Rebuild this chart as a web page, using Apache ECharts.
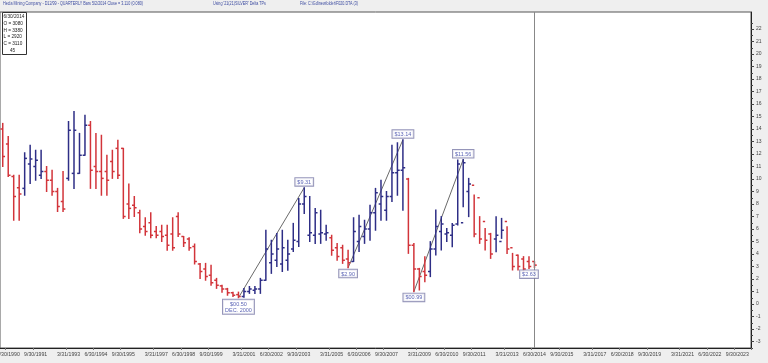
<!DOCTYPE html>
<html><head><meta charset="utf-8">
<script src="https://cdn.jsdelivr.net/npm/echarts@6/dist/echarts.min.js"></script>
<style>html,body{margin:0;padding:0;background:#efefef}#c{width:768px;height:363px}</style>
</head><body><div id="c"></div>
<script>
// ---- data (quarterly bars, index 0 = 3/31/1990) ----
var firstYear = 1990, lastYear = 2024, lastQuarterOfLastYear = 1;
var opens  = [14.0,12.8,10.2,9.3, 9.25,11.2,11.0,10.3, 10.6,9.9,9.0,8.2, 10.05,10.45,10.45,11.9, 14.3,11.0,10.6,10.6, 11.4,12.45,12.45,8.0,
              7.9,7.3,6.2,6.5, 5.8,5.8,5.5,5.6, 7.0,5.4,5.2,4.6, 3.2,2.8,2.3,1.9, 1.45,1.2,0.9,0.75, 0.6,1.0,1.1,1.2,
              1.9,3.3,3.5,3.2, 3.5,4.4,5.0,8.0, 5.5,5.5,5.6,5.6, 5.3,4.5,4.5,3.6, 3.4,5.0,5.4,6.0, 7.3,8.0,7.5,8.6,
              10.5,10.7,10.0,4.7, 2.8,2.6,2.6,4.4, 5.8,5.6,5.5,6.4, 6.5,9.0,9.5,8.5, 6.6,5.6,5.2,5.0, 6.6,4.5,3.9,3.6, 3.4,3.4];
var highs  = [14.45,13.4,10.3,10.3, 12.1,12.7,12.3,12.3, 11.0,10.7,9.25,10.6, 14.6,15.4,13.65,15.1, 14.6,13.65,13.5,11.9, 12.3,13.1,12.45,9.6,
              8.6,7.5,6.9,7.3, 6.2,6.3,6.3,6.9, 7.3,5.4,5.3,4.8, 3.25,3.25,3.1,2.05, 1.5,1.25,0.95,0.95, 1.25,1.4,1.4,2.05,
              5.9,5.1,5.65,5.9, 5.1,6.45,8.45,9.31, 8.6,7.65,7.5,6.3, 5.5,4.85,4.7,4.3, 6.9,7.1,6.7,7.9, 9.25,9.9,9.0,12.7,
              12.9,13.14,10.05,4.85, 2.85,3.79,4.99,7.52, 6.99,6.05,6.45,11.52, 11.56,10.05,8.72,6.99, 6.05,5.65,6.99,6.85, 6.19,4.05,3.92,3.79, 3.79,3.38];
var lows   = [11.0,10.2,6.7,6.7, 8.7,9.65,9.9,10.05, 9.0,8.7,7.4,7.4, 9.9,9.25,10.45,11.9, 9.25,9.25,8.7,8.7, 10.05,10.05,6.85,6.85,
              7.0,5.7,5.5,5.3, 5.3,5.0,4.3,4.3, 5.4,4.6,4.3,3.2, 2.05,1.9,1.5,1.25, 0.95,0.7,0.6,0.50, 0.55,0.85,0.85,0.85,
              1.9,2.45,3.0,2.6, 2.7,4.2,4.6,7.25, 5.0,4.85,4.85,5.1, 3.9,3.5,3.25,2.90, 3.4,4.2,4.85,5.1, 5.9,6.7,6.7,8.2,
              8.7,7.5,4.05,0.99, 1.12,1.79,2.19,3.92, 4.32,5.0,4.59,6.32, 7.79,6.99,5.39,4.85, 4.32,3.65,4.19,5.25, 4.05,2.72,2.72,2.63, 2.85,2.92];
var closes = [11.8,10.3,8.6,8.8, 11.65,11.6,11.5,10.6, 9.9,9.0,7.8,7.6, 13.9,13.9,11.9,14.3, 10.7,10.6,10.05,9.9, 10.6,10.3,7.0,7.65,
              7.7,6.0,5.8,5.5, 5.5,5.4,4.7,4.5, 5.6,4.9,4.5,3.4, 2.6,2.2,1.7,1.5, 1.2,0.9,0.7,0.6, 1.0,1.2,1.2,1.9,
              4.4,4.0,4.4,4.5, 4.0,5.1,8.0,8.6, 5.7,7.3,5.7,5.7, 4.3,3.8,3.5,3.3, 5.8,6.2,6.0,7.3, 8.9,8.6,8.6,10.5,
              10.7,10.9,4.7,2.8, 2.2,2.3,4.4,6.2, 6.4,5.7,6.3,11.2, 11.3,9.6,5.6,5.2, 5.1,4.0,5.5,5.9, 4.4,3.0,3.0,2.8, 3.0,3.11];
var xTickLabels = ['6/30/1990','9/30/1991','3/31/1993','6/30/1994','9/30/1995','3/31/1997','6/30/1998','9/30/1999',
  '3/31/2001','6/30/2002','9/30/2003','3/31/2005','6/30/2006','9/30/2007','3/31/2009','6/30/2010','9/30/2011',
  '3/31/2013','6/30/2014','9/30/2015','3/31/2017','6/30/2018','9/30/2019','3/31/2021','6/30/2022','9/30/2023'];
var yTickLabels = [-3,-2,-1,0,1,2,3,4,5,6,7,8,9,10,11,12,13,14,15,16,17,18,19,20,21,22];
var yMinorTicks = [-3.5,-2.5,-1.5,-0.5,0.5,1.5,2.5,3.5,4.5,5.5,6.5,7.5,8.5,9.5,10.5,11.5,12.5,13.5,14.5,15.5,16.5,17.5,18.5,19.5,20.5,21.5,22.5];
// pivot annotations: [bar index, kind, text]
var pivots = [[43,'low','$00.50\nDEC. 2000'],[55,'high','$9.31'],[63,'low','$2.90'],[73,'high','$13.14'],
              [75,'low','$00.99'],[84,'high','$11.56'],[96,'low','$2.63']];
var trendLines = [[43,55],[63,73],[75,84]];
var cursorDate = '6/30/2014';
var headerTexts = ['Hecla Mining Company - D12/99 - QUARTERLY Bars 5/2/2014 Close = 3.110 (0.080)',
                   "Using '21(21)SILVER' Delta TPs", 'File: C:\\Gd\\newfolder\\F020.DTA (3)'];

// ---- build ----
var categories = [];
var qEnds = ['3/31/','6/30/','9/30/','12/31/'];
for (var y = firstYear; y <= lastYear; y++) for (var q = 0; q < 4; q++) {
  if (y === lastYear && q >= lastQuarterOfLastYear) break;
  categories.push(qEnds[q] + y);
}
var RED = '#d2343a', BLUE = '#2e2e86';
var ohlc = opens.map(function(o, i){ return [i, o, highs[i], lows[i], closes[i]]; });

function renderItem(params, api) {
  var x = api.value(0);
  var o = api.coord([x, api.value(1)]), h = api.coord([x, api.value(2)]);
  var l = api.coord([x, api.value(3)]), c = api.coord([x, api.value(4)]);
  var col = api.value(4) >= api.value(1) ? BLUE : RED;
  var st = {stroke: col, lineWidth: 1.5};
  var w = 2.3;
  return {type: 'group', children: [
    {type: 'line', shape: {x1: h[0], y1: h[1] - 0.5, x2: l[0], y2: l[1] + 0.5}, style: st},
    {type: 'line', shape: {x1: o[0] - w, y1: o[1], x2: o[0], y2: o[1]}, style: st},
    {type: 'line', shape: {x1: c[0], y1: c[1], x2: c[0] + w, y2: c[1]}, style: st}
  ]};
}

var series = [{type: 'custom', renderItem: renderItem, data: ohlc, encode: {x: 0, y: [1,2,3,4]}, z: 3,
  markLine: {silent: true, symbol: 'none', label: {show: false}, lineStyle: {color: '#888', width: 1, type: 'solid'},
    data: [{xAxis: cursorDate}]}}];
trendLines.forEach(function(t){
  series.push({type: 'line', data: [[t[0], lows[t[0]]], [t[1], highs[t[1]]]], symbol: 'none', silent: true,
    lineStyle: {color: '#6a6a6a', width: 1}, z: 2});
});
series.push({type: 'scatter', symbolSize: 0, silent: true, z: 5,
  data: pivots.map(function(p){
    var isLow = p[1] === 'low';
    return {value: [p[0], isLow ? lows[p[0]] : highs[p[0]]],
      label: {show: true, formatter: p[2], position: isLow ? 'bottom' : 'top', distance: 2,
        fontSize: 5.5, lineHeight: 6.5, color: '#2e3aa0', backgroundColor: '#fff', borderColor: '#7a7aa8',
        borderWidth: 1, padding: [1, 2, 0, 2], fontFamily: 'Liberation Sans', align: 'center'}};
  })});

// header texts: one uniform horizontal scale so the first text spans x 3..143 as in the reference
var HFONT = 4.5, HFAM = 'Liberation Sans';
var hLeft = [3, 213, 300];
var mctx = document.createElement('canvas').getContext('2d');
mctx.font = HFONT + 'px "' + HFAM + '"';
var hScale = 140 / mctx.measureText(headerTexts[0]).width;
var headerGraphics = headerTexts.map(function(t, k){
  return {type: 'text', x: hLeft[k], y: 1.5, scaleX: hScale, scaleY: 1,
    style: {text: t, fontSize: HFONT, fill: '#3b4aa0', fontFamily: HFAM, textVerticalAlign: 'top'}};
});

var yCommon = {type: 'value', position: 'right', min: -3.52, max: 23.36, splitLine: {show: false}};
var chart = echarts.init(document.getElementById('c'), null, {renderer: 'canvas'});
chart.setOption({
  animation: false,
  backgroundColor: '#efefef',
  grid: {left: 0, right: 17, top: 12, bottom: 15, show: true, backgroundColor: '#ffffff', borderColor: '#555', borderWidth: 1,
    containLabel: false, outerBoundsMode: 'none'},
  xAxis: {type: 'category', data: categories, boundaryGap: true,
    axisLine: {onZero: false, lineStyle: {color: '#222', width: 1}},
    axisTick: {show: true, length: 2, interval: function(i, v){ return xTickLabels.indexOf(v) >= 0; }, lineStyle: {color: '#777'}},
    axisLabel: {interval: function(i, v){ return xTickLabels.indexOf(v) >= 0; }, fontSize: 5.2, color: '#444', margin: 4,
      fontFamily: 'Liberation Sans', hideOverlap: false},
    splitLine: {show: false}},
  yAxis: [
    Object.assign({}, yCommon, {
      name: 'Price', nameLocation: 'middle', nameRotate: -90, nameGap: 12,
      nameTextStyle: {fontSize: 5, color: '#444', fontFamily: 'Liberation Sans'},
      axisLine: {show: true, lineStyle: {color: '#222', width: 1}},
      axisTick: {show: true, length: 3, customValues: yTickLabels, lineStyle: {color: '#444'}},
      axisLabel: {fontSize: 5, color: '#444', margin: 5, fontFamily: 'Liberation Sans', customValues: yTickLabels}}),
    Object.assign({}, yCommon, {
      axisLine: {show: false},
      axisTick: {show: true, length: 2, customValues: yMinorTicks, lineStyle: {color: '#444'}},
      axisLabel: {show: false}})
  ],
  graphic: headerGraphics.concat([
    {type: 'rect', left: 2, top: 12, shape: {width: 24, height: 42}, style: {fill: '#fff', stroke: '#333', lineWidth: 1}, z: 10},
    {type: 'text', left: 3.5, top: 13.5, z: 11, style: {text: '6/30/2014\nO = 3080\nH = 3380\nL = 2920\nC = 3110\n     45', fontSize: 4.7, lineHeight: 6.7, fill: '#222', fontFamily: 'Liberation Sans'}}
  ]),
  series: series
});
</script></body></html>
